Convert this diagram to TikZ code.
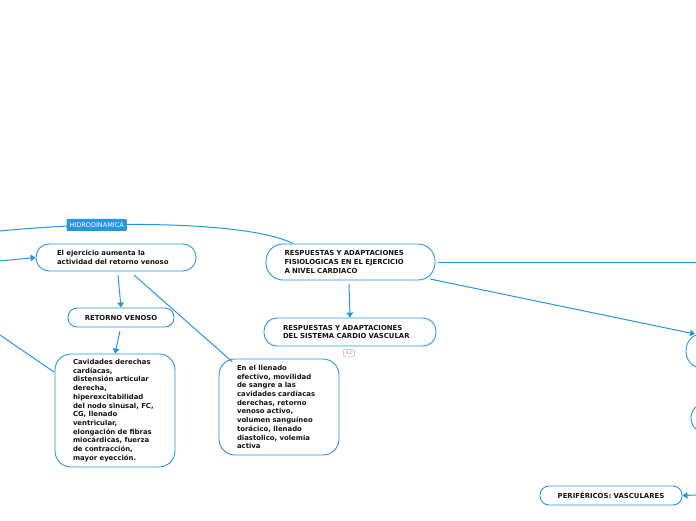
\documentclass[tikz,border=0pt]{standalone}
\usepackage{fontspec}
\setmainfont{DejaVu Sans}
\usetikzlibrary{arrows.meta}
\definecolor{mmblue}{RGB}{38,150,222}
\definecolor{txt}{RGB}{20,20,20}
\tikzset{
  box/.style={draw=mmblue, line width=0.9pt, fill=white, text=txt, font=\fontsize{6.9}{8.7}\selectfont\bfseries, inner sep=0pt},
  conn/.style={draw=mmblue, line width=1pt},
  arr/.style={conn, -{Triangle[length=5pt,width=6.5pt]}},
  lbl/.style={fill=mmblue, text=white, font=\fontsize{6.5}{7}\selectfont, inner xsep=3pt, inner ysep=0pt, minimum height=12pt, rounded corners=1pt},
  badge/.style={draw=gray!60, line width=0.5pt, rounded corners=2pt, font=\fontsize{4.5}{5}\selectfont, text=gray, minimum width=11pt, minimum height=7.5pt, inner sep=0pt}
}
\begin{document}
\begin{tikzpicture}[x=1pt,y=-1pt]
\useasboundingbox (0,0) rectangle (696,520);
\clip (0,0) rectangle (696,520);
% nodes
\node[box, rounded corners=13pt, minimum width=160pt, minimum height=27pt, text width=118pt, align=left] (ej) at (116,257.5) {El ejercicio aumenta la\\actividad del retorno venoso};
\node[box, rounded corners=9pt, minimum width=106pt, minimum height=19pt, align=center] (rv) at (121,317.5) {RETORNO VENOSO};
\node[box, rounded corners=16pt, minimum width=120pt, minimum height=113pt, text width=84pt, align=left] (cav) at (115,410.5) {Cavidades derechas\\cardíacas,\\distensión articular\\derecha,\\hiperexcitabilidad\\del nodo sinusal, FC,\\CG, llenado\\ventricular,\\elongación de fibras\\miocárdicas, fuerza\\de contracción,\\mayor eyección.};
\node[box, rounded corners=16pt, minimum width=120pt, minimum height=96pt, text width=84pt, align=left] (ll) at (279,407) {En el llenado\\efectivo, movilidad\\de sangre a las\\cavidades cardíacas\\derechas, retorno\\venoso activo,\\volumen sanguíneo\\torácico, llenado\\diastolico, volemia\\activa};
\node[box, rounded corners=17pt, minimum width=169pt, minimum height=36pt, text width=132pt, align=left] (rc) at (350.5,262) {RESPUESTAS Y ADAPTACIONES\\FISIOLOGICAS EN EL EJERCICIO\\A NIVEL CARDIACO};
\node[box, rounded corners=13pt, minimum width=172pt, minimum height=28pt, text width=134pt, align=left] (rs) at (350,332) {RESPUESTAS Y ADAPTACIONES\\DEL SISTEMA CARDIO VASCULAR};
\node[badge] (b12) at (349,353) {12};
\node[box, rounded corners=9pt, minimum width=142pt, minimum height=19pt, align=center] (pv) at (611,495.5) {PERIFÉRICOS: VASCULARES};
\node[box, rounded corners=17pt, minimum width=150pt, minimum height=35pt] (ra) at (761,351) {};
\node[box, rounded corners=15pt, minimum width=150pt, minimum height=30pt] (rb) at (766,418) {};
% free ends
\coordinate (l1) at (0,261);
\coordinate (l2) at (0,335);
\coordinate (l3) at (0,231);
\coordinate (r1) at (696,262);
\coordinate (r2) at (696,495);
% connectors
\draw[conn] (l3) .. controls (110,220) and (250,222) .. (293,243.5) node[lbl, pos=0.28] (hid) {HIDRODINAMICA};
\draw[arr] (l1) -- (ej.west);
\draw[arr] (118,275) -- (rv.north);
\draw[arr] (120,331) -- (cav.north);
\draw[conn] (l2) -- (54,372);
\draw[conn] (134,275) -- (232,361.5);
\draw[arr] (349,284) -- (rs.north);
\draw[conn] (438,262) -- (r1);
\draw[arr] (430,279) -- (695,334);
\draw[arr] (r2) -- (pv.east);
\end{tikzpicture}
\end{document}
